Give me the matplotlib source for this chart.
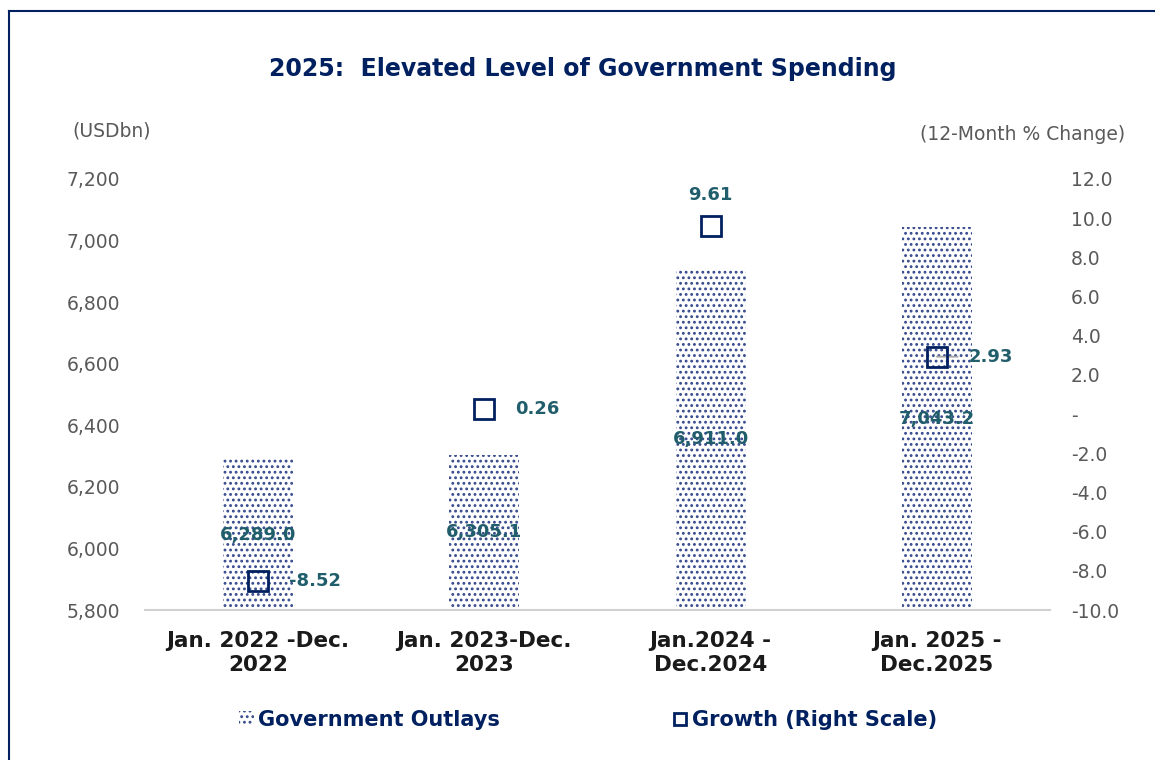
import matplotlib
matplotlib.use("Agg")
import matplotlib.pyplot as plt
from matplotlib.lines import Line2D
from matplotlib.patches import Patch

# data
categories = ["Jan. 2022 -Dec.\n2022", "Jan. 2023-Dec.\n2023",
              "Jan.2024 -\nDec.2024", "Jan. 2025 -\nDec.2025"]
outlays = [6289.0, 6305.1, 6911.0, 7043.2]
growth = [-8.52, 0.26, 9.61, 2.93]
left_ticks = [5800, 6000, 6200, 6400, 6600, 6800, 7000, 7200]
right_ticks = [-10, -8, -6, -4, -2, 0, 2, 4, 6, 8, 10, 12]

NAVY = "#002060"
DOTS = "#34488C"
TEAL = "#215E6B"
GREY = "#595959"

plt.rcParams['font.family'] = ['DejaVu Sans']
plt.rcParams['hatch.linewidth'] = 1.25
plt.rcParams['hatch.color'] = DOTS

W, H = 1155, 760
fig = plt.figure(figsize=(W / 100, H / 100), dpi=100)

# outer frame (left and top edges visible)
fig.add_artist(Line2D([9 / W, 9 / W], [0, 1 - 11 / H], color=NAVY, lw=1.5,
                      transform=fig.transFigure))
fig.add_artist(Line2D([9 / W, 1], [1 - 11 / H, 1 - 11 / H], color=NAVY, lw=1.5,
                      transform=fig.transFigure))

ax = fig.add_axes([145 / W, 150 / H, 905 / W, 431 / H])
x = list(range(len(categories)))
bars = ax.bar(x, [v - left_ticks[0] for v in outlays], bottom=left_ticks[0],
              width=0.31, facecolor="white", edgecolor=DOTS, linewidth=0,
              hatch="...", zorder=2)
ax.set_ylim(left_ticks[0], left_ticks[-1])
ax.set_xlim(-0.5, len(categories) - 0.5)
ax.set_yticks(left_ticks)
ax.set_yticklabels([f"{t:,}" for t in left_ticks])
ax.set_xticks(x)
ax.set_xticklabels(categories, fontsize=15.5, fontweight="bold", color="#1a1a1a",
                   linespacing=1.25)
ax.tick_params(axis="y", length=0, labelsize=13.5, labelcolor=GREY, pad=18)
ax.tick_params(axis="x", length=0, pad=15)
for s in ["top", "right", "left"]:
    ax.spines[s].set_visible(False)
ax.spines["bottom"].set_color("#d0d0d0")
ax.spines["bottom"].set_linewidth(1.5)

for xi, v in zip(x, outlays):
    ax.text(xi, (v + left_ticks[0]) / 2, f"{v:,.1f}", ha="center", va="center",
            fontsize=13, fontweight="bold", color=TEAL, zorder=5)

ax2 = ax.twinx()
ax2.set_ylim(right_ticks[0], right_ticks[-1])
ax2.set_yticks(right_ticks)
ax2.set_yticklabels([f"{t:.1f}" if t != 0 else "-" for t in right_ticks])
ax2.tick_params(axis="y", length=0, labelsize=13.5, labelcolor=GREY, pad=15)
for s in ax2.spines.values():
    s.set_visible(False)
ax2.plot(x, growth, linestyle="none", marker="s", markersize=14.5,
         markerfacecolor="none", markeredgecolor=NAVY, markeredgewidth=2, zorder=4)
for i, (xi, g) in enumerate(zip(x, growth)):
    if g == max(growth):
        ax2.annotate(f"{g:.2f}", (xi, g), xytext=(0, 22), textcoords="offset points",
                     ha="center", va="center", fontsize=13, fontweight="bold", color=TEAL)
    elif i == len(growth) - 1:
        # last label sits on a short grey leader line
        ax2.annotate(f"{g:.2f}", (xi, g), xytext=(23, 0), textcoords="offset points",
                     ha="left", va="center", fontsize=13, fontweight="bold", color=TEAL,
                     arrowprops=dict(arrowstyle="-", color="#a6a6a6", lw=1.3,
                                     shrinkA=6, shrinkB=0))
    else:
        ax2.annotate(f"{g:.2f}", (xi, g), xytext=(22, 0), textcoords="offset points",
                     ha="left", va="center", fontsize=13, fontweight="bold", color=TEAL)

fig.text(583 / W, 1 - 69 / H, "2025:  Elevated Level of Government Spending",
         ha="center", va="center", fontsize=17, fontweight="bold", color=NAVY)
fig.text(72 / W, 1 - 131 / H, "(USDbn)", ha="left", va="center",
         fontsize=13.5, color=GREY)
fig.text(1125 / W, 1 - 135 / H, "(12-Month % Change)", ha="right", va="center",
         fontsize=13.5, color=GREY)

handles = [Patch(facecolor="white", edgecolor=DOTS, linewidth=0, hatch="...",
                 label="Government Outlays"),
           Line2D([], [], linestyle="none", marker="s", markersize=8,
                  markerfacecolor="none", markeredgecolor=NAVY, markeredgewidth=2,
                  label="Growth (Right Scale)")]
leg = fig.legend(handles=handles, loc="center", bbox_to_anchor=(588 / W, 1 - 720 / H),
                 ncol=2, frameon=False, handlelength=0.7, handleheight=0.7,
                 handletextpad=0.2, columnspacing=8.3, prop={"weight": "bold", "size": 15})
for t in leg.get_texts():
    t.set_color(NAVY)

fig.savefig("out.png", dpi=100)
